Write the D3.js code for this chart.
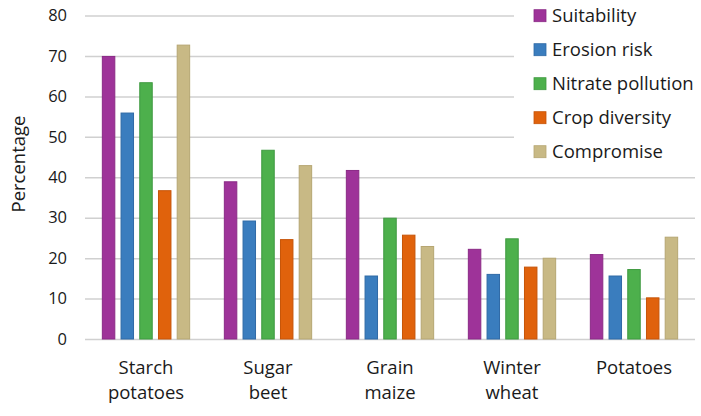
<!DOCTYPE html>
<html>
<head>
<meta charset="utf-8">
<script src="https://cdn.jsdelivr.net/npm/d3@7"></script>
<style>
  body { margin: 0; background: #fff; }
  svg { font-family: "Open Sans", "Noto Sans", sans-serif; }
  .tick text { fill: #1a1a1a; }
</style>
</head>
<body>
<div id="chart"></div>
<script>
const crops = ["Starch\npotatoes", "Sugar\nbeet", "Grain\nmaize", "Winter\nwheat", "Potatoes"];
const seriesNames = ["Suitability", "Erosion risk", "Nitrate pollution", "Crop diversity", "Compromise"];
const suitability = [70, 39, 41.8, 22.3, 21];
const erosionRisk = [56, 29.3, 15.7, 16.1, 15.7];
const nitratePollution = [63.5, 46.8, 30, 24.9, 17.3];
const cropDiversity = [36.8, 24.7, 25.8, 17.9, 10.3];
const compromise = [72.8, 43, 23, 20.1, 25.3];
const yTicks = [0, 10, 20, 30, 40, 50, 60, 70, 80];
const colors = ["#9e3399", "#3a7dbe", "#4db04c", "#e0620c", "#c8b985"];
const strokes = ["#8a2a86", "#2f6aa6", "#3f9a40", "#c65408", "#b6a672"];

const series = [suitability, erosionRisk, nitratePollution, cropDiversity, compromise];

const width = 701, height = 416;
const margin = { top: 15.5, right: 6, bottom: 77, left: 85 };
const labelSize = 18.5;

const svg = d3.select("#chart").append("svg")
  .attr("width", width)
  .attr("height", height);

const x0 = d3.scaleBand()
  .domain(crops)
  .range([margin.left, width - margin.right])
  .paddingInner(0.276)
  .paddingOuter(0.138);

const x1 = d3.scaleBand()
  .domain(seriesNames)
  .range([0, x0.bandwidth()])
  .paddingInner(0.28)
  .paddingOuter(0);

const y = d3.scaleLinear()
  .domain([0, 80])
  .range([height - margin.bottom, margin.top]);

// gridlines
svg.append("g")
  .attr("transform", `translate(${margin.left},0)`)
  .call(d3.axisLeft(y).tickValues(yTicks).tickSize(-(width - margin.left - margin.right)).tickFormat(""))
  .call(g => g.select(".domain").remove())
  .call(g => g.selectAll("line").attr("stroke", "#d0d0d0").attr("stroke-width", 1.5));

// y tick labels
svg.append("g")
  .attr("transform", `translate(${margin.left},0)`)
  .call(d3.axisLeft(y).tickValues(yTicks).tickSize(0).tickPadding(18))
  .call(g => g.select(".domain").remove())
  .call(g => g.selectAll("text").attr("font-size", 16.5).attr("font-family", "Open Sans, sans-serif"));

// bars
const groups = svg.append("g")
  .selectAll("g")
  .data(crops)
  .join("g")
  .attr("transform", d => `translate(${x0(d)},0)`);

groups.selectAll("rect")
  .data((d, i) => seriesNames.map((s, j) => ({ key: s, idx: j, value: series[j][i] })))
  .join("rect")
  .attr("x", d => x1(d.key) + 0.5)
  .attr("y", d => y(d.value) + 0.5)
  .attr("width", x1.bandwidth() - 1)
  .attr("height", d => y(0) - y(d.value) - 0.5)
  .attr("fill", d => colors[d.idx])
  .attr("stroke", d => strokes[d.idx])
  .attr("stroke-width", 1);

// category labels
const xLabels = svg.append("g")
  .selectAll("text")
  .data(crops)
  .join("text")
  .attr("x", d => x0(d) + x0.bandwidth() / 2)
  .attr("y", 374)
  .attr("text-anchor", "middle")
  .attr("font-size", labelSize)
  .attr("fill", "#1a1a1a");

xLabels.selectAll("tspan")
  .data(d => d.split("\n"))
  .join("tspan")
  .attr("x", function () { return d3.select(this.parentNode).attr("x"); })
  .attr("dy", (d, i) => i === 0 ? 0 : 25)
  .text(d => d);

// y axis title
svg.append("text")
  .attr("transform", "translate(25,164) rotate(-90)")
  .attr("text-anchor", "middle")
  .attr("font-size", labelSize)
  .attr("fill", "#1a1a1a")
  .text("Percentage");

// legend
svg.append("rect")
  .attr("x", 514)
  .attr("y", 0)
  .attr("width", width - 514)
  .attr("height", 168)
  .attr("fill", "#fff");

const legend = svg.append("g")
  .selectAll("g")
  .data(seriesNames)
  .join("g")
  .attr("transform", (d, i) => `translate(534,${15.7 + i * 34})`);

legend.append("rect")
  .attr("x", 0)
  .attr("y", -6)
  .attr("width", 12)
  .attr("height", 12)
  .attr("fill", (d, i) => colors[i])
  .attr("stroke", (d, i) => strokes[i])
  .attr("stroke-width", 0.8);

legend.append("text")
  .attr("x", 18)
  .attr("dy", "0.35em")
  .attr("font-size", labelSize)
  .attr("fill", "#1a1a1a")
  .text(d => d);
</script>
</body>
</html>
